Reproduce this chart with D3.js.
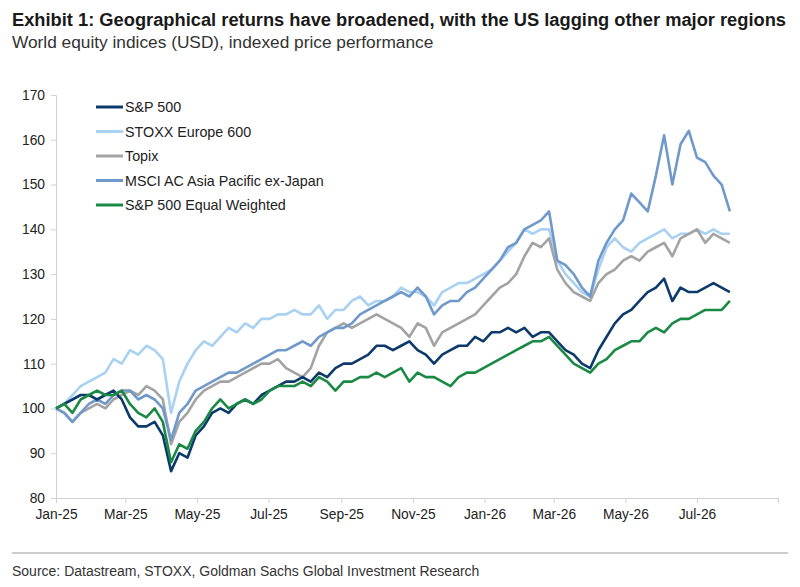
<!DOCTYPE html>
<html><head><meta charset="utf-8">
<script src="https://cdn.jsdelivr.net/npm/d3@7"></script>
<style>body{margin:0;background:#fff;font-family:"Liberation Sans",Arial,sans-serif}</style>
</head><body><svg id="c" width="800" height="587"></svg>
<script>
const startDate = "2025-01-01";
const spx = [100,101,102,103,103,102,103,104,102,98,96,96,97,94,86,90,89,94,96,99,100,99,101,102,101,103,104,105,106,106,107,106,108,107,109,110,110,111,112,114,114,113,114,115,113,112,110,112,113,114,114,116,115,117,117,118,117,118,116,117,117,115,113,112,110,109,113,116,119,121,122,124,126,127,129,124,127,126,126,127,128,127,126];
const stoxx = [100,101,103,105,106,107,108,111,110,113,112,114,113,111,99,106,110,113,115,114,116,118,117,119,118,120,120,121,121,122,121,121,123,120,122,122,124,125,123,124,124,125,127,126,126,125,123,126,127,128,128,129,130,131,133,135,137,140,139,140,140,133,130,128,126,125,131,136,138,136,135,137,138,139,140,138,139,139,140,139,140,139,139];
const topix = [100,99,97,99,100,101,100,102,103,104,103,105,104,102,92,97,99,102,104,105,106,106,107,108,109,110,110,111,109,108,107,109,114,117,118,119,118,119,120,121,120,119,118,116,119,118,114,117,118,119,120,121,123,125,127,128,130,134,137,136,138,131,128,126,125,124,128,130,131,133,134,133,135,136,137,134,138,139,140,137,139,138,137];
const apxj = [100,99,97,99,101,102,101,103,104,104,102,103,102,100,93,99,101,104,105,106,107,108,108,109,110,111,112,113,113,114,115,114,116,117,118,118,119,121,122,123,124,125,126,125,127,125,121,123,124,124,126,127,129,131,133,136,137,140,141,142,144,133,132,130,127,125,133,137,140,142,148,146,144,152,161,150,159,162,156,155,152,150,144];
const eqw = [100,101,99,102,103,104,103,103,104,101,99,98,100,97,88,92,91,95,97,100,102,100,101,102,101,102,104,105,105,105,106,105,107,106,104,106,106,107,107,108,107,108,109,106,108,107,107,106,105,107,108,108,109,110,111,112,113,114,115,115,116,114,112,110,109,108,110,111,113,114,115,115,117,118,117,119,120,120,121,122,122,122,124];
const seriesNames = ["S&P 500","STOXX Europe 600","Topix","MSCI AC Asia Pacific ex-Japan","S&P 500 Equal Weighted"];
const seriesData = [spx, stoxx, topix, apxj, eqw];
const colors = ["#0c3a6b","#a8d1f2","#a3a3a3","#7099cb","#1a8944"];
const yTicks = [80,90,100,110,120,130,140,150,160,170];
const xTickLabels = ["Jan-25","Mar-25","May-25","Jul-25","Sep-25","Nov-25","Jan-26","Mar-26","May-26","Jul-26"];

const svg = d3.select("#c");
const parse = d3.timeParse("%Y-%m-%d");
const t0 = parse(startDate);
const dates = spx.map((_, i) => d3.timeDay.offset(t0, 7*i));
const x = d3.scaleTime().domain([t0, parse("2026-09-08")]).range([56, 778]);
const y = d3.scaleLinear().domain([80,170]).range([498, 95]);

svg.append("text").attr("x",12).attr("y",26).attr("font-size",18.3).attr("font-weight","bold").attr("fill","#1a1a1a")
  .text("Exhibit 1: Geographical returns have broadened, with the US lagging other major regions");
svg.append("text").attr("x",12).attr("y",48).attr("font-size",17.3).attr("fill","#333")
  .text("World equity indices (USD), indexed price performance");

const yAx = svg.append("g").attr("transform","translate(56,0)")
  .call(d3.axisLeft(y).tickValues(yTicks).tickSize(5).tickPadding(6));
const xTickDates = xTickLabels.map(s => d3.timeParse("%b-%y")(s));
const xAx = svg.append("g").attr("transform","translate(0,498)")
  .call(d3.axisBottom(x).tickValues(xTickDates).tickFormat(d3.timeFormat("%b-%y")).tickSize(5).tickPadding(6));
[yAx,xAx].forEach(g=>{g.selectAll("path,line").attr("stroke","#d0d0d0");
  g.selectAll("text").attr("font-size",13.8).attr("fill","#222").attr("font-family","Liberation Sans, Arial, sans-serif");});

const line = d3.line().x((d,i)=>x(dates[i])).y(d=>y(d)).curve(d3.curveLinear);
const order = [1,2,3,0,4];
order.forEach(k=>{
  svg.append("path").datum(seriesData[k]).attr("d",line).attr("fill","none")
    .attr("stroke",colors[k]).attr("stroke-width",2.6).attr("stroke-linejoin","round");
});

seriesNames.forEach((n,i)=>{
  const yy = 107 + i*24.5;
  svg.append("line").attr("x1",96).attr("x2",123).attr("y1",yy).attr("y2",yy).attr("stroke",colors[i]).attr("stroke-width",3);
  svg.append("text").attr("x",125).attr("y",yy+5).attr("font-size",14.3).attr("fill","#222").text(n);
});

svg.append("line").attr("x1",12).attr("x2",788).attr("y1",553).attr("y2",553).attr("stroke","#999").attr("stroke-width",1);
svg.append("text").attr("x",12).attr("y",576).attr("font-size",14).attr("fill","#333")
  .text("Source: Datastream, STOXX, Goldman Sachs Global Investment Research");
</script></body></html>
